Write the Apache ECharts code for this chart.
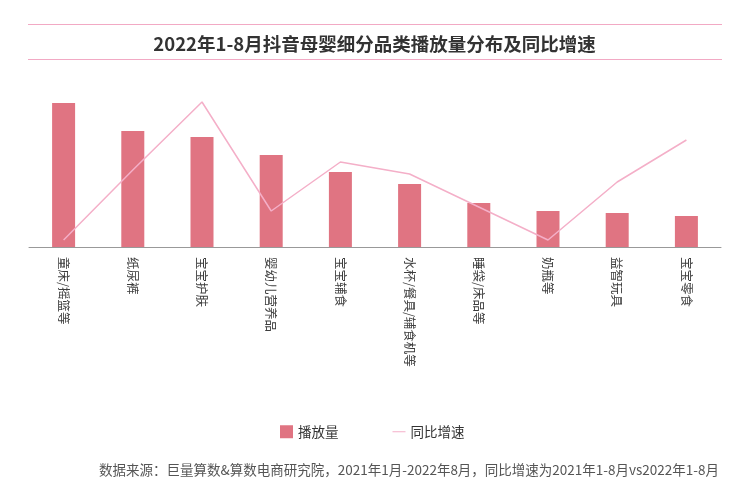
<!DOCTYPE html>
<html>
<head>
<meta charset="utf-8">
<script src="https://cdn.jsdelivr.net/npm/echarts@6/dist/echarts.min.js"></script>
<style>html,body{margin:0;padding:0;background:#fff}#c{width:749px;height:492px}</style>
</head>
<body>
<div id="c"></div>
<script>
var categories = ['童床/摇篮等','纸尿裤','宝宝护肤','婴幼儿营养品','宝宝辅食','水杯/餐具/辅食机等','睡袋/床品等','奶瓶等','益智玩具','宝宝零食'];
var playVolume = [144, 116, 110, 92, 75, 63, 44, 36, 34, 31];
var yoyGrowth = [7, 77, 145, 36, 85, 73, 40, 7, 65, 107];

var chart = echarts.init(document.getElementById('c'));
var font = 'Noto Sans CJK SC';
chart.setOption({
  animation: false,
  textStyle: {fontFamily: font},
  title: {
    text: '2022年1-8月抖音母婴细分品类播放量分布及同比增速',
    left: 'center', top: 30,
    textStyle: {fontSize: 18.5, fontWeight: 'bold', color: '#333', fontFamily: font}
  },
  graphic: [
    {type: 'line', shape: {x1: 28, y1: 24.5, x2: 722, y2: 24.5}, style: {stroke: '#f2a9c4', lineWidth: 1}},
    {type: 'line', shape: {x1: 28, y1: 59.5, x2: 722, y2: 59.5}, style: {stroke: '#f2a9c4', lineWidth: 1}},
    {type: 'text', right: 30, top: 463, style: {text: '数据来源：巨量算数&算数电商研究院，2021年1月-2022年8月，同比增速为2021年1-8月vs2022年1-8月', fill: '#555', font: '13.5px "Noto Sans CJK SC"'}}
  ],
  legend: {
    top: 420, left: 275,
    itemGap: 54, itemWidth: 13, itemHeight: 13,
    textStyle: {fontSize: 13.5, color: '#333', fontFamily: font},
    data: [
      {name: '播放量', icon: 'rect'},
      {name: '同比增速', icon: 'path://M0,6 L13,6 L13,7 L0,7 Z', itemStyle: {color: '#f4afc8'}}
    ]
  },
  grid: {left: 29, right: 28, top: 80, height: 167},
  xAxis: {
    type: 'category', data: categories,
    axisLine: {lineStyle: {color: '#999', width: 1}},
    axisTick: {show: false},
    axisLabel: {rotate: -90, interval: 0, color: '#3d3d3d', fontSize: 12.5, margin: 10, fontFamily: font}
  },
  yAxis: [
    {type: 'value', min: 0, max: 167, show: false, splitLine: {show: false}},
    {type: 'value', min: 0, max: 167, show: false, splitLine: {show: false}}
  ],
  series: [
    {name: '播放量', type: 'bar', data: playVolume, barWidth: 23, itemStyle: {color: '#e07482'}},
    {name: '同比增速', type: 'line', yAxisIndex: 1, data: yoyGrowth, symbol: 'none', lineStyle: {color: '#f4afc8', width: 1.5}, itemStyle: {color: '#f4afc8'}}
  ]
});
</script>
</body>
</html>
